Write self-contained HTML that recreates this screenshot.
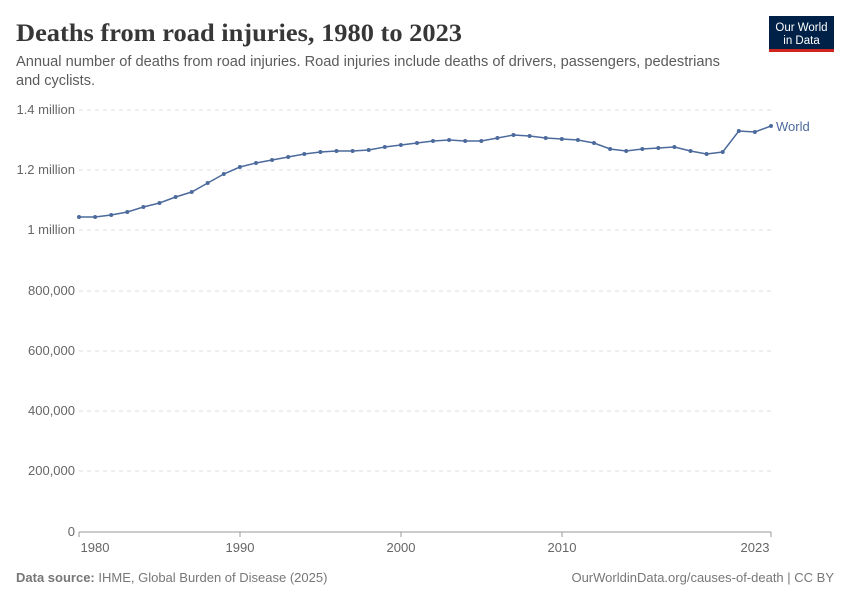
<!DOCTYPE html>
<html><head><meta charset="utf-8"><style>
body{margin:0;background:#fff;width:850px;height:600px;overflow:hidden;font-family:"Liberation Sans",sans-serif}
</style></head><body>
<svg width="850" height="600" xmlns="http://www.w3.org/2000/svg">
<text x="16" y="41" font-family="Liberation Serif,serif" font-size="25" font-weight="bold" fill="#373737" textLength="446" lengthAdjust="spacingAndGlyphs">Deaths from road injuries, 1980 to 2023</text>
<text x="16" y="66" font-size="14.5" fill="#5b5b5b" textLength="704" lengthAdjust="spacingAndGlyphs">Annual number of deaths from road injuries. Road injuries include deaths of drivers, passengers, pedestrians</text>
<text x="16" y="85" font-size="14.5" fill="#5b5b5b">and cyclists.</text>
<rect x="769" y="16" width="65" height="36" fill="#002147"/>
<rect x="769" y="49" width="65" height="3" fill="#ce261e"/>
<text x="801.5" y="31" font-size="11.5" fill="#fff" text-anchor="middle">Our World</text>
<text x="801.5" y="44" font-size="11.5" fill="#fff" text-anchor="middle">in Data</text>
<g stroke="#ddd" stroke-dasharray="4,4" stroke-width="1">
<line x1="79" x2="771" y1="110" y2="110"/><line x1="79" x2="771" y1="170" y2="170"/><line x1="79" x2="771" y1="230" y2="230"/><line x1="79" x2="771" y1="291" y2="291"/><line x1="79" x2="771" y1="351" y2="351"/><line x1="79" x2="771" y1="411" y2="411"/><line x1="79" x2="771" y1="471" y2="471"/>
</g>
<line x1="79" x2="771" y1="532" y2="532" stroke="#999"/>
<g font-size="13" fill="#666" text-anchor="end">
<text x="75" y="114">1.4 million</text><text x="75" y="174">1.2 million</text><text x="75" y="234">1 million</text><text x="75" y="295">800,000</text><text x="75" y="355">600,000</text><text x="75" y="415">400,000</text><text x="75" y="475">200,000</text><text x="75" y="536">0</text>
</g>
<g stroke="#999"><line x1="79" x2="79" y1="532" y2="537"/><line x1="240" x2="240" y1="532" y2="537"/><line x1="401" x2="401" y1="532" y2="537"/><line x1="562" x2="562" y1="532" y2="537"/><line x1="771" x2="771" y1="532" y2="537"/></g>
<g font-size="13" fill="#666" text-anchor="middle">
<text x="95" y="552">1980</text><text x="240" y="552">1990</text><text x="401" y="552">2000</text><text x="562" y="552">2010</text><text x="755" y="552">2023</text>
</g>
<polyline id="l" fill="none" stroke="#4c6a9c" stroke-width="1.5" points=""/>
<g id="d" fill="#4c6a9c"></g>
<text x="776" y="131" font-size="13" fill="#4c6a9c">World</text>
<text x="16" y="582" font-size="13" fill="#777"><tspan font-weight="bold">Data source:</tspan> IHME, Global Burden of Disease (2025)</text>
<text x="834" y="582" font-size="13" fill="#777" text-anchor="end">OurWorldinData.org/causes-of-death | CC BY</text>
</svg>
<script>
var ys=[217,217,215,212,207,203,197,192,183,174,167,163,160,157,154,152,151,151,150,147,145,143,141,140,141,141,138,135,136,138,139,140,143,149,151,149,148,147,151,154,152,131,132,126];
var p=[],g='';
ys.forEach(function(y,i){var x=79+i*692/43;p.push(x.toFixed(1)+','+y);g+='<circle cx="'+x.toFixed(1)+'" cy="'+y+'" r="2"/>';});
document.getElementById('l').setAttribute('points',p.join(' '));
document.getElementById('d').innerHTML=g;
</script>
</body></html>
